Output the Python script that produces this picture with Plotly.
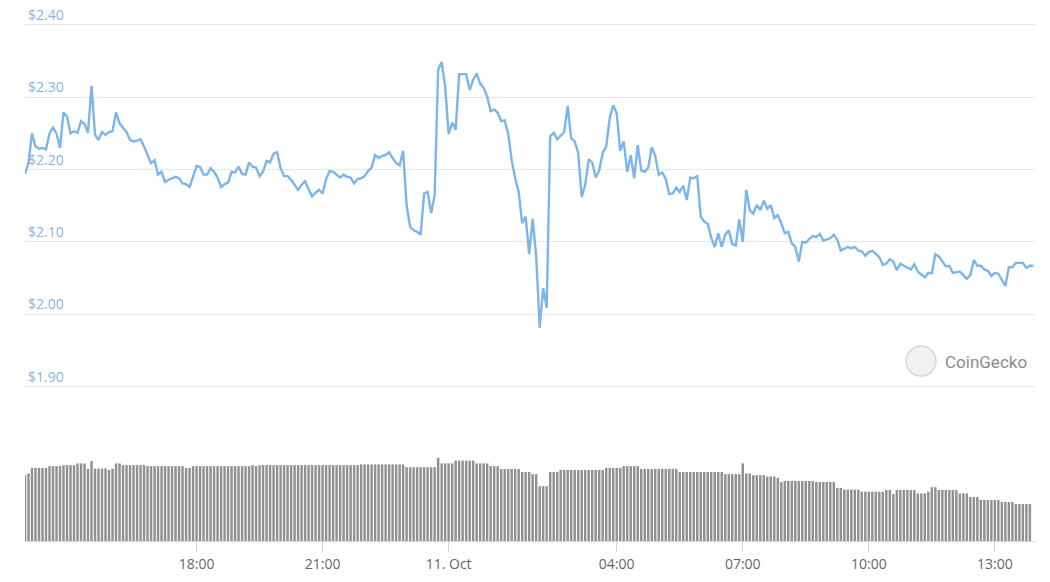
import pandas as pd
import plotly.graph_objects as go

# ---------------- data ----------------
start_time = "2021-10-10 13:55"

# price samples: minutes after start_time, price in USD
price_minutes = [
    0, 5, 10, 15, 20, 25, 30, 35, 40, 45, 50, 55, 60, 65, 70, 75, 80, 85, 90, 95,
    100, 105, 110, 115, 120, 125, 130, 135, 140, 145, 150, 155, 160, 165, 170, 175, 180, 185, 190, 195,
    200, 205, 210, 215, 220, 225, 230, 235, 240, 245, 250, 255, 260, 265, 270, 275, 280, 285, 290, 295,
    300, 305, 310, 315, 320, 325, 330, 335, 340, 345, 350, 355, 360, 365, 370, 375, 380, 385, 390, 395,
    400, 405, 410, 415, 420, 425, 430, 435, 440, 445, 450, 455, 460, 465, 470, 475, 480, 485, 490, 495,
    500, 505, 510, 515, 520, 525, 530, 535, 540, 545, 550, 555, 560, 565, 570, 575, 580, 585, 590, 595,
    600, 605, 610, 615, 620, 625, 630, 635, 640, 645, 650, 655, 660, 665, 670, 675, 680, 685, 690, 695,
    700, 705, 710, 715, 720, 725, 730, 735, 740, 745, 750, 755, 760, 770, 775, 780, 785, 790, 795,
    800, 805, 810, 815, 820, 825, 830, 835, 840, 845, 850, 855, 860, 865, 870, 875, 880, 885, 890, 895,
    900, 905, 910, 915, 920, 925, 930, 935, 940, 945, 950, 955, 960, 965, 970, 975, 980, 985, 990, 995,
    1000, 1005, 1010, 1015, 1020, 1025, 1030, 1035, 1040, 1045, 1050, 1055, 1060, 1065, 1070, 1075, 1080, 1085, 1090, 1095,
    1100, 1105, 1110, 1115, 1120, 1125, 1130, 1135, 1140, 1145, 1150, 1155, 1160, 1165, 1170, 1175, 1180, 1185, 1190, 1195,
    1200, 1205, 1210, 1215, 1220, 1225, 1230, 1235, 1240, 1245, 1250, 1255, 1265, 1270, 1275, 1280, 1285, 1290, 1295,
    1300, 1305, 1310, 1315, 1320, 1325, 1335, 1340, 1345, 1350, 1355, 1360, 1365, 1370, 1375, 1380, 1385, 1390, 1395,
    1400, 1405, 1410, 1415, 1425, 1430, 1435, 1440,
]
prices = [
    2.194, 2.209, 2.250, 2.232, 2.229, 2.230, 2.228, 2.250, 2.258, 2.250, 2.230, 2.279, 2.273, 2.250, 2.253, 2.251, 2.267, 2.263, 2.251, 2.316,
    2.248, 2.241, 2.252, 2.248, 2.252, 2.253, 2.279, 2.264, 2.258, 2.252, 2.241, 2.239, 2.240, 2.242, 2.232, 2.220, 2.209, 2.213, 2.193, 2.197,
    2.183, 2.186, 2.188, 2.190, 2.188, 2.181, 2.180, 2.176, 2.190, 2.205, 2.204, 2.193, 2.193, 2.202, 2.197, 2.189, 2.176, 2.180, 2.182, 2.197,
    2.196, 2.204, 2.194, 2.193, 2.210, 2.204, 2.203, 2.191, 2.197, 2.212, 2.210, 2.222, 2.224, 2.202, 2.191, 2.191, 2.186, 2.179, 2.172, 2.179,
    2.184, 2.173, 2.163, 2.168, 2.172, 2.167, 2.187, 2.198, 2.197, 2.193, 2.189, 2.193, 2.190, 2.189, 2.181, 2.187, 2.188, 2.191, 2.198, 2.203,
    2.220, 2.216, 2.219, 2.220, 2.224, 2.216, 2.209, 2.206, 2.226, 2.150, 2.121, 2.116, 2.114, 2.110, 2.167, 2.169, 2.140, 2.164, 2.338, 2.349,
    2.315, 2.249, 2.265, 2.255, 2.332, 2.332, 2.332, 2.310, 2.324, 2.333, 2.319, 2.313, 2.301, 2.281, 2.283, 2.279, 2.267, 2.268, 2.250, 2.213,
    2.188, 2.169, 2.126, 2.135, 2.083, 2.132, 2.080, 1.981, 2.036, 2.009, 2.246, 2.251, 2.242, 2.252, 2.288, 2.243, 2.239, 2.223, 2.162,
    2.179, 2.214, 2.210, 2.189, 2.199, 2.223, 2.232, 2.271, 2.289, 2.278, 2.226, 2.239, 2.197, 2.220, 2.188, 2.234, 2.199, 2.197, 2.203, 2.231,
    2.219, 2.193, 2.196, 2.187, 2.166, 2.167, 2.175, 2.169, 2.178, 2.158, 2.189, 2.188, 2.191, 2.135, 2.128, 2.125, 2.106, 2.093, 2.112, 2.093,
    2.110, 2.116, 2.097, 2.095, 2.131, 2.100, 2.172, 2.144, 2.139, 2.151, 2.144, 2.157, 2.146, 2.151, 2.133, 2.137, 2.126, 2.112, 2.114, 2.098,
    2.093, 2.073, 2.100, 2.099, 2.104, 2.108, 2.107, 2.111, 2.102, 2.103, 2.105, 2.110, 2.103, 2.088, 2.090, 2.093, 2.091, 2.093, 2.088, 2.087,
    2.081, 2.086, 2.088, 2.084, 2.079, 2.068, 2.070, 2.076, 2.073, 2.061, 2.070, 2.067, 2.062, 2.069, 2.059, 2.055, 2.051, 2.057, 2.057,
    2.083, 2.080, 2.073, 2.066, 2.067, 2.057, 2.059, 2.054, 2.049, 2.054, 2.075, 2.067, 2.067, 2.062, 2.060, 2.053, 2.057, 2.056, 2.047,
    2.039, 2.065, 2.065, 2.071, 2.071, 2.064, 2.067, 2.067,
]

# 24h rolling volume (billion USD), one value every 5 minutes from start_time
volumes = [
    1.91, 1.96, 2.12, 2.12, 2.12, 2.12, 2.12, 2.17, 2.17, 2.17, 2.17, 2.20, 2.20, 2.20, 2.20, 2.25, 2.25, 2.25, 2.09, 2.32,
    2.10, 2.10, 2.10, 2.10, 2.06, 2.10, 2.25, 2.25, 2.20, 2.20, 2.20, 2.20, 2.20, 2.20, 2.20, 2.17, 2.17, 2.17, 2.17, 2.17,
    2.17, 2.17, 2.17, 2.17, 2.17, 2.17, 2.12, 2.12, 2.17, 2.17, 2.17, 2.17, 2.17, 2.17, 2.17, 2.17, 2.17, 2.17, 2.17, 2.17,
    2.17, 2.17, 2.17, 2.17, 2.17, 2.20, 2.17, 2.20, 2.20, 2.20, 2.20, 2.20, 2.20, 2.20, 2.20, 2.20, 2.20, 2.20, 2.20, 2.20,
    2.20, 2.20, 2.20, 2.20, 2.20, 2.20, 2.20, 2.20, 2.20, 2.20, 2.20, 2.20, 2.20, 2.20, 2.20, 2.20, 2.22, 2.22, 2.22, 2.22,
    2.22, 2.22, 2.22, 2.22, 2.22, 2.22, 2.22, 2.22, 2.22, 2.14, 2.14, 2.14, 2.14, 2.14, 2.14, 2.14, 2.14, 2.14, 2.41, 2.25,
    2.25, 2.25, 2.25, 2.33, 2.33, 2.33, 2.33, 2.33, 2.33, 2.25, 2.25, 2.25, 2.25, 2.17, 2.17, 2.17, 2.09, 2.09, 2.09, 2.09,
    2.09, 2.09, 2.00, 2.00, 2.00, 1.94, 1.94, 1.59, 1.59, 1.59, 2.00, 2.00, 2.00, 2.06, 2.06, 2.06, 2.06, 2.06, 2.06, 2.06,
    2.06, 2.06, 2.06, 2.06, 2.06, 2.06, 2.12, 2.12, 2.12, 2.12, 2.12, 2.17, 2.17, 2.17, 2.17, 2.17, 2.09, 2.09, 2.09, 2.09,
    2.09, 2.09, 2.09, 2.09, 2.09, 2.09, 2.09, 2.00, 2.00, 2.00, 2.00, 2.00, 2.00, 2.00, 2.00, 2.00, 2.00, 2.00, 2.00, 2.00,
    1.94, 1.94, 1.94, 1.94, 1.94, 2.25, 1.96, 1.96, 1.91, 1.91, 1.91, 1.91, 1.87, 1.87, 1.87, 1.83, 1.71, 1.74, 1.74, 1.74,
    1.74, 1.74, 1.74, 1.74, 1.74, 1.74, 1.71, 1.71, 1.71, 1.71, 1.71, 1.71, 1.54, 1.54, 1.49, 1.49, 1.49, 1.49, 1.49, 1.43,
    1.43, 1.43, 1.43, 1.43, 1.43, 1.43, 1.48, 1.48, 1.36, 1.48, 1.48, 1.48, 1.48, 1.48, 1.48, 1.38, 1.38, 1.38, 1.43, 1.56,
    1.56, 1.48, 1.48, 1.48, 1.48, 1.48, 1.48, 1.38, 1.38, 1.38, 1.28, 1.28, 1.28, 1.19, 1.19, 1.19, 1.19, 1.19, 1.19, 1.13,
    1.13, 1.13, 1.13, 1.07, 1.07, 1.07, 1.07, 1.07,
]

price_ticks = [1.90, 2.00, 2.10, 2.20, 2.30, 2.40]
price_tick_text = ["$1.90", "$2.00", "$2.10", "$2.20", "$2.30", "$2.40"]
x_tick_times = ["2021-10-10 18:00", "2021-10-10 21:00", "2021-10-11 00:00", "2021-10-11 04:00",
                "2021-10-11 07:00", "2021-10-11 10:00", "2021-10-11 13:00"]
x_tick_text = ["18:00", "21:00", "11. Oct", "04:00", "07:00", "10:00", "13:00"]

# ---------------- build ----------------
t0 = pd.Timestamp(start_time)
price_times = t0 + pd.to_timedelta(price_minutes, unit="min")
volume_times = t0 + pd.to_timedelta([5 * i for i in range(len(volumes))], unit="min")

fig = go.Figure()
fig.add_trace(go.Bar(
    x=volume_times, y=volumes, xaxis="x", yaxis="y2",
    marker=dict(color="#909090", line=dict(width=0)),
    hoverinfo="skip", showlegend=False,
))
fig.add_trace(go.Scatter(
    x=price_times, y=prices, xaxis="x", yaxis="y", mode="lines",
    line=dict(color="#7cb5ec", width=2.4), hoverinfo="skip", showlegend=False,
))

font_family = "Open Sans, Roboto, sans-serif"

fig.update_layout(
    width=1050, height=582,
    margin=dict(l=25, r=15, t=0, b=41),
    paper_bgcolor="white", plot_bgcolor="white",
    bargap=0.3,
    font=dict(family=font_family),
    xaxis=dict(
        type="date",
        range=["2021-10-10 13:55", "2021-10-11 13:57:20"],
        anchor="y2",
        showgrid=False, zeroline=False,
        showline=True, linecolor="#ccd6eb", linewidth=1,
        ticks="outside", ticklen=10, tickcolor="#ccd6eb", tickwidth=1,
        tickvals=x_tick_times, ticktext=x_tick_text,
        tickfont=dict(color="#666666", size=14, family=font_family),
    ),
    yaxis=dict(
        domain=[0.2588, 0.9939],
        range=[1.88, 2.43],
        tickvals=price_ticks, ticktext=price_tick_text,
        ticklabelposition="inside top",
        tickfont=dict(color="#8ab4e8", size=14, family=font_family),
        showgrid=True, gridcolor="#e6e6e6", gridwidth=1,
        zeroline=False, showline=False, ticks="",
    ),
    yaxis2=dict(
        domain=[0, 0.255], range=[0, 4.0], visible=False, fixedrange=True,
    ),
)

# CoinGecko watermark
fig.add_shape(type="circle", xref="paper", yref="paper",
              x0=0.8723, x1=0.9020, y0=0.3050, y1=0.3604,
              line=dict(color="#d6d6d6", width=1.5), fillcolor="#f2f2f2", layer="above")
fig.add_annotation(text="CoinGecko", xref="paper", yref="paper", x=0.909, y=0.3309,
                   xanchor="left", yanchor="middle", showarrow=False,
                   font=dict(color="#8a8a8a", size=17, family="Roboto, sans-serif"))

fig.write_html("out.html", config={"displayModeBar": False},
               post_script="document.body.style.margin='0';")
